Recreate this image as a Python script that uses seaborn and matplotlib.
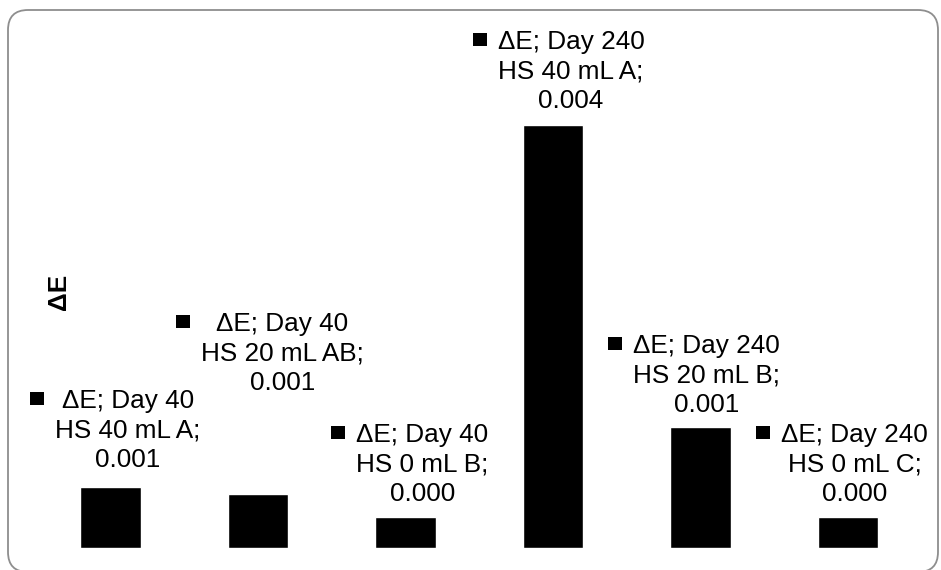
import matplotlib
matplotlib.use("Agg")
import matplotlib.pyplot as plt
import seaborn as sns
import pandas as pd
from matplotlib.patches import FancyBboxPatch, Rectangle
from matplotlib.transforms import IdentityTransform

# ---- data ----
days = ["Day 40", "Day 40", "Day 40", "Day 240", "Day 240", "Day 240"]
treatments = ["HS 40 mL", "HS 20 mL", "HS 0 mL", "HS 40 mL", "HS 20 mL", "HS 0 mL"]
letters = ["A", "AB", "B", "A", "B", "C"]
values = [0.00058, 0.00051, 0.00029, 0.0040, 0.00114, 0.00029]
series_name = "ΔE"

categories = [f"{d} {t}" for d, t in zip(days, treatments)]
df = pd.DataFrame({"cat": categories, "value": values})

# ---- layout (label offsets in pixels) ----
label_dx = [17.5, 24.5, 17, 18, 6, 6.5]
label_gap = [20, 104, 17, 17, 16, 17]

sns.set_theme(style="white")
plt.rcParams["font.family"] = ["Liberation Sans", "DejaVu Sans"]

W, H = 941, 570
fig = plt.figure(figsize=(W / 100, H / 100), dpi=100)
ax = fig.add_axes([36.75 / W, 22 / H, 885 / W, 538 / H])

sns.barplot(data=df, x="cat", y="value", color="black", width=0.41,
            saturation=1, ax=ax, order=categories)
ax.set_xlim(-0.5, len(categories) - 0.5)
ax.set_ylim(0, max(values) * 1.272)
ax.axis("off")

fs = 18.8
texts = []
for i, (d, t, l, v) in enumerate(zip(days, treatments, letters, values)):
    s = f"{series_name}; {d}\n{t} {l};\n{v:.3f}"
    tx = ax.annotate(s, xy=(i, v), xytext=(label_dx[i], label_gap[i] - 5.3),
                     textcoords="offset pixels", ha="center", va="bottom",
                     multialignment="center", fontsize=fs, color="black",
                     linespacing=1.29)
    texts.append(tx)

fig.text(59 / W, 1 - 292 / H, series_name, rotation=90, fontsize=fs,
         fontweight="bold", ha="center", va="center", color="black")

fig.canvas.draw()
r = fig.canvas.get_renderer()
em = fs * 100 / 72
for tx in texts:
    bb = tx.get_window_extent(r)
    base = bb.y1 - 0.73 * em
    right = bb.x0 - 11
    fig.patches.append(Rectangle((right - 14, base + 3), 14, 13,
                                 facecolor="black", edgecolor="none",
                                 transform=IdentityTransform(), figure=fig))

border = FancyBboxPatch((8, -2), 930, 562,
                        boxstyle="round,pad=0,rounding_size=20",
                        facecolor="none", edgecolor="#8e8e8e", linewidth=1.3,
                        transform=IdentityTransform(), figure=fig)
fig.patches.append(border)

fig.savefig("out.png", dpi=100)
